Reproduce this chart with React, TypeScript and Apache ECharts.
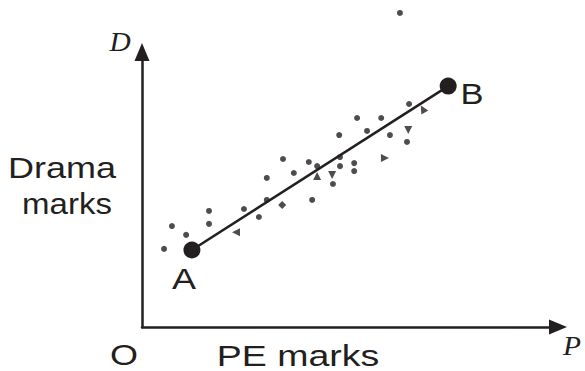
import React, { useEffect, useRef } from "react";
import * as echarts from "echarts";

// PE marks (x) vs Drama marks (y) for individual pupils
const roundMarks: [number, number][] = [
  [5.3, 28.4], [7.2, 36.7], [10.6, 33.5], [16.1, 42.2], [16.1, 37.5],
  [24.5, 42.9], [28.1, 40.0], [30.0, 46.2], [30.0, 54.2], [33.9, 61.1],
  [36.5, 56.0], [40.1, 60.0], [40.9, 46.2], [42.1, 58.5], [45.9, 52.0],
  [47.4, 69.8], [47.6, 61.8], [47.6, 58.5], [51.0, 59.6], [51.0, 56.7],
  [51.7, 76.0], [54.1, 71.3], [57.5, 76.0], [59.6, 69.8], [63.7, 67.3],
  [64.2, 81.1], [62.0, 114.2],
];
const diamondMarks: [number, number][] = [[33.7, 44.4]];
// triangles with their pointing direction (degrees)
const triangleMarks: [number, number, number][] = [
  [22.6, 34.5, 90], [42.1, 54.9, 0], [45.7, 55.3, 180],
  [58.4, 61.5, -90], [64.0, 71.6, 180], [67.5, 79.3, 30],
];
// line of best fit from A to B
const pointA: [number, number] = [12.0, 28.0];
const pointB: [number, number] = [73.6, 87.6];

const INK = "#231f20";

export default function App() {
  const ref = useRef<HTMLDivElement>(null);
  useEffect(() => {
    if (!ref.current) return;
    const chart = echarts.init(ref.current, undefined, { renderer: "svg" });
    const sans = "Liberation Sans, Arial, sans-serif";
    const serif = "Liberation Serif, Times New Roman, serif";
    const axisCommon = {
      type: "value" as const,
      min: 0,
      max: 100,
      splitLine: { show: false },
      axisTick: { show: false },
      axisLabel: { show: false },
      axisLine: {
        show: true,
        symbol: ["none", "triangle"],
        symbolSize: [15, 18],
        lineStyle: { color: INK, width: 2.5 },
      },
    };
    const label = (text: string, x: number, y: number, sx: number, font: string) => ({
      type: "text",
      x,
      y,
      scaleX: sx,
      style: { text, font, fill: INK, textAlign: "center", textVerticalAlign: "middle" },
    });
    chart.setOption({
      animation: false,
      grid: { left: 142, right: 27, top: 52, bottom: 44 },
      xAxis: axisCommon,
      yAxis: axisCommon,
      series: [
        {
          type: "line",
          data: [pointA, pointB],
          symbol: "circle",
          symbolSize: 17,
          showSymbol: true,
          lineStyle: { color: INK, width: 2.5 },
          itemStyle: { color: INK },
        },
        {
          type: "scatter",
          clip: false,
          data: roundMarks,
          symbol: "circle",
          symbolSize: 6,
          itemStyle: { color: INK },
        },
        {
          type: "scatter",
          clip: false,
          data: diamondMarks,
          symbol: "diamond",
          symbolSize: 8,
          itemStyle: { color: INK },
        },
        {
          type: "scatter",
          clip: false,
          data: triangleMarks.map(([x, y, r]) => ({
            value: [x, y],
            symbolRotate: r,
          })),
          symbol: "triangle",
          symbolSize: 8,
          itemStyle: { color: INK },
        },
      ],
      graphic: [
        label("Drama", 62, 168, 1.2, `30px ${sans}`),
        label("marks", 67, 204, 1.1, `30px ${sans}`),
        label("PE marks", 298, 355, 1.25, `30px ${sans}`),
        label("O", 124, 355, 1.2, `30px ${sans}`),
        label("A", 184, 279, 1.2, `30px ${sans}`),
        label("B", 472, 94, 1.15, `30px ${sans}`),
        label("D", 120, 41, 1.05, `italic 28px ${serif}`),
        label("P", 572, 345, 1.05, `italic 28px ${serif}`),
      ],
    });
    return () => chart.dispose();
  }, []);
  return <div ref={ref} style={{ width: 585, height: 371, position: "absolute", left: 0, top: 0 }} />;
}
